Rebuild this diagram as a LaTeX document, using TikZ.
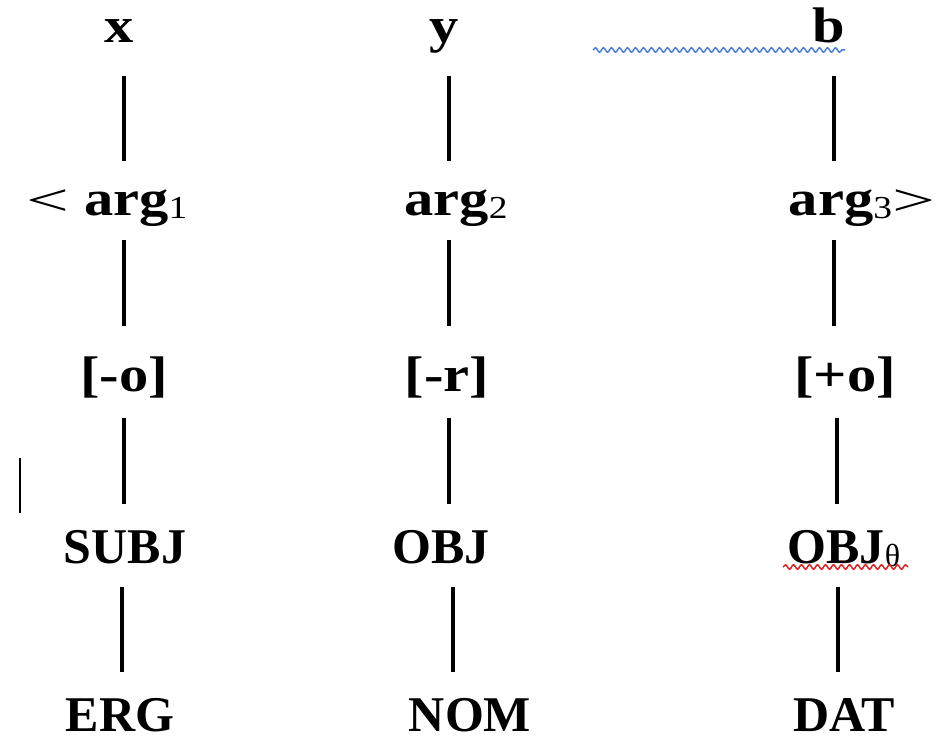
\documentclass[tikz,border=0pt]{standalone}
\usepackage{fontspec}
\setmainfont{Liberation Serif}
\newfontfamily\widefont[FakeStretch=1.17]{Liberation Serif}
\usepackage{xcolor}
\usepackage{graphicx}
\usepackage{tikz}
\usetikzlibrary{decorations.pathmorphing}
\definecolor{ink}{HTML}{000000}
\definecolor{spellblue}{HTML}{4A7FD6}
\definecolor{spellred}{HTML}{E0201C}
% thin wide angle brackets and light lowered indices
\newcommand{\langl}{\scalebox{1.3}[0.9]{\mdseries<}}
\newcommand{\rangl}{\scalebox{1.3}[0.9]{\mdseries>}}
\newcommand{\idx}[1]{\raisebox{-3pt}{\fontsize{32}{32}\selectfont\mdseries #1}}
\tikzset{
  lbl/.style={text=ink, font=\fontsize{50}{60}\selectfont\bfseries, anchor=base,
    inner sep=0pt, text height=34pt, text depth=4pt},
  wide/.style={font=\fontsize{50}{60}\selectfont\widefont\bfseries},
  link/.style={draw=ink, line width=3.4pt, shorten <=23pt, shorten >=25pt},
  squiggle/.style={line width=1.5pt, decorate,
    decoration={snake, segment length=8pt, amplitude=2.2pt}}
}

\begin{document}
\begin{tikzpicture}[x=1pt,y=-1pt]
\useasboundingbox (0,0) rectangle (941,741);
% columns the connectors run in
\coordinate (colA) at (124,0);
\coordinate (colB) at (449,0);
\coordinate (colC) at (834,0);
% variables
\node[lbl, wide] (x) at (119,43) {x};
\node[lbl, wide] (y) at (444,43) {y};
\node[lbl, wide] (b) at (829,43) {b};
% argument list
\node[lbl, wide] (a1) at (107,215) {\langl\ arg\idx{1}};
\node[lbl, wide] (a2) at (456,215) {arg\idx{2}};
\node[lbl, wide] (a3) at (862,215) {arg\idx{3}\rangl};
% features
\node[lbl, wide] (f1) at (124,391) {[-o]};
\node[lbl, wide] (f2) at (447,391) {[-r]};
\node[lbl, wide] (f3) at (845,391) {[+o]};
% functions
\node[lbl] (subj) at (125,563) {SUBJ};
\node[lbl] (obj) at (441,563) {OBJ};
\node[lbl] (objt) at (844,563) {OBJ\idx{θ}};
% cases
\node[lbl] (erg) at (120,731) {ERG};
\node[lbl] (nom) at (470,731) {NOM};
\node[lbl] (dat) at (844,731) {DAT};
% links
\draw[link, shorten <=29pt, shorten >=20pt] (x.south -| colA) -- (a1.north -| colA);
\draw[link, shorten <=29pt, shorten >=20pt] (y.south -| colB) -- (a2.north -| colB);
\draw[link, shorten <=29pt, shorten >=20pt] (b.south -| colC) -- (a3.north -| colC);
\draw[link, shorten <=21pt, shorten >=31pt] (a1.south -| colA) -- (f1.north -| colA);
\draw[link, shorten <=21pt, shorten >=31pt] (a2.south -| colB) -- (f2.north -| colB);
\draw[link, shorten <=21pt, shorten >=31pt] (a3.south -| colC) -- (f3.north -| colC);
\draw[link] (f1.south -| colA) -- (subj.north -| colA);
\draw[link] (f2.south -| colB) -- (obj.north -| colB);
\draw[link] ([xshift=3pt]f3.south -| colC) -- ([xshift=3pt]objt.north -| colC);
\draw[link, shorten <=20pt, shorten >=25pt] ([xshift=-2pt]subj.south -| colA) -- ([xshift=-2pt]erg.north -| colA);
\draw[link, shorten <=20pt, shorten >=25pt] ([xshift=4pt]obj.south -| colB) -- ([xshift=4pt]nom.north -| colB);
\draw[link, shorten <=20pt, shorten >=25pt] ([xshift=4pt]objt.south -| colC) -- ([xshift=4pt]dat.north -| colC);
% stray mark and spelling underlines
\draw[ink, line width=1.8pt] (20,458) -- (20,513);
\draw[spellblue, squiggle] (593,50) -- (845,50);
\draw[spellred, squiggle] (783,567) -- (908,567);
\end{tikzpicture}
\end{document}
